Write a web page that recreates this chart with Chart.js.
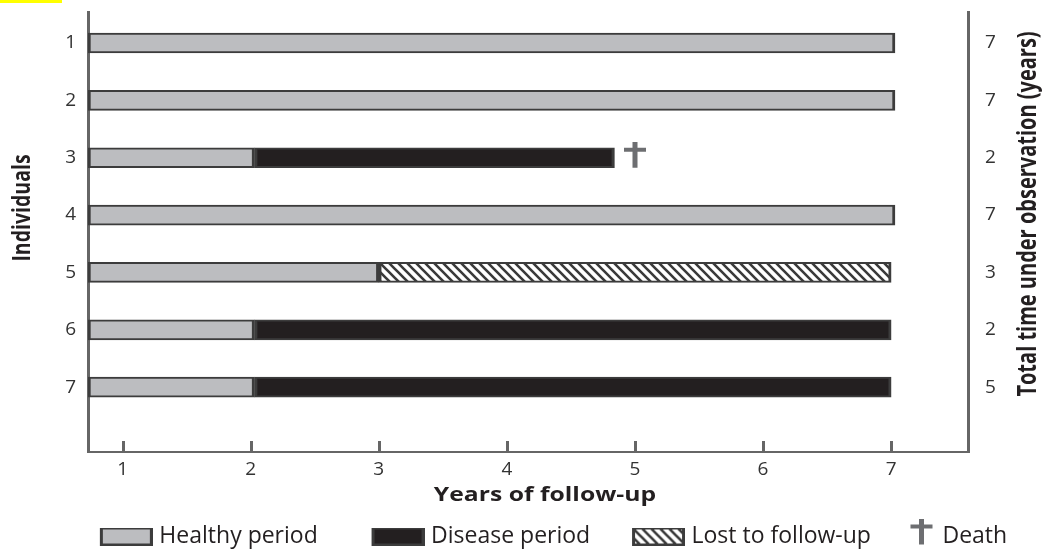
<html>
<head>
  <meta charset="UTF-8">
  <title>Follow-up of individuals</title>
  <script src="https://cdn.jsdelivr.net/npm/chart.js"></script>
  <style>
    body { margin: 0; background: #fff; }
    #chartContainer { width: 1043px; height: 550px; }
  </style>
</head>
<body>
  <div id="chartContainer">
    <canvas id="followChart"></canvas>
  </div>

  <script>
    // --- Data ---
    const INDIVIDUALS  = [1, 2, 3, 4, 5, 6, 7];
    const YEAR_TICKS   = [1, 2, 3, 4, 5, 6, 7];
    const FOLLOW_START = 0.73;   // bars start at the left edge of the time axis
    const HEALTHY_END  = [7.03, 7.03, 2.03, 7.03, 3.0, 2.03, 2.03];
    const DISEASE      = [null, null, [2.03, 4.84], null, null, [2.03, 7.0], [2.03, 7.0]];
    const LOST         = [null, null, null, null, [3.0, 7.0], null, null];
    const DEATHS       = [{ x: 5.0, y: 3 }];
    const TOTAL_TIME   = [7, 7, 2, 7, 3, 2, 5];

    // --- Styles ---
    const FONT   = "'Open Sans', 'Noto Sans', sans-serif";
    const GREY   = '#bcbdc0';
    const BLACK  = '#231f20';
    const EDGE   = '#3c3c3c';
    const AXIS   = '#666666';
    const DAGGER = '#6d6e71';
    const TEXT   = '#333333';
    const STRETCH = 1.3;   // the source figure is stretched sideways

    function hatchPattern() {
      const c = document.createElement('canvas');
      c.width = 9; c.height = 9;
      const g = c.getContext('2d');
      g.fillStyle = '#ffffff'; g.fillRect(0, 0, 9, 9);
      g.strokeStyle = '#3a3a3a'; g.lineWidth = 2.6;
      g.beginPath();
      g.moveTo(-1, -1); g.lineTo(10, 10);
      g.moveTo(-1, 8);  g.lineTo(2, 11);
      g.moveTo(8, -1);  g.lineTo(11, 2);
      g.stroke();
      return document.createElement('canvas').getContext('2d').createPattern(c, 'repeat');
    }
    const HATCH = hatchPattern();

    function daggerCanvas(w, h, cx, top) {
      const c = document.createElement('canvas');
      c.width = w; c.height = h;
      const g = c.getContext('2d');
      g.fillStyle = DAGGER;
      g.fillRect(cx - 2.5, top, 5, 26);
      g.fillRect(cx - 11, top + 6, 22, 4);
      return c;
    }

    // legend swatch, box flush right so the text sits close to it
    const SW_W = 62;
    function swatch(fill) {
      const c = document.createElement('canvas');
      c.width = SW_W; c.height = 18;
      const g = c.getContext('2d');
      g.fillStyle = EDGE; g.fillRect(SW_W - 53, 0, 53, 18);
      g.fillStyle = fill; g.fillRect(SW_W - 50, 2, 47, 14);
      return c;
    }

    const rows = (ranges) => INDIVIDUALS
      .map((id, i) => ranges[i] ? { y: id, x: ranges[i] } : null)
      .filter(Boolean);

    const barBase = {
      type: 'bar', grouped: false, barThickness: 20,
      borderColor: EDGE, borderWidth: { top: 2, bottom: 2, left: 3, right: 3 },
      borderSkipped: false, xAxisID: 'x', yAxisID: 'y'
    };

    function stretchedText(ctx, text, font, x, y, angle) {
      ctx.save();
      ctx.font = font;
      ctx.fillStyle = BLACK;
      ctx.textAlign = 'center'; ctx.textBaseline = 'middle';
      ctx.translate(x, y);
      ctx.scale(STRETCH, 1);
      ctx.rotate(angle);
      ctx.fillText(text, 0, 0);
      ctx.restore();
    }

    // --- Extra drawing: inward x ticks, axis titles ---
    const decor = {
      id: 'decor',
      beforeDraw(chart) {
        const ctx = chart.ctx;
        ctx.save();
        ctx.fillStyle = '#ffff00';
        ctx.fillRect(0, 0, 62, 3);
        ctx.restore();
      },
      afterDraw(chart) {
        const { ctx, chartArea, scales } = chart;
        ctx.save();
        ctx.strokeStyle = AXIS; ctx.lineWidth = 3;
        YEAR_TICKS.forEach(v => {
          const px = Math.round(scales.x.getPixelForValue(v)) + 0.5;
          ctx.beginPath();
          ctx.moveTo(px, chartArea.bottom);
          ctx.lineTo(px, chartArea.bottom - 11);
          ctx.stroke();
        });
        ctx.restore();
        stretchedText(ctx, 'Years of follow-up', 'bold 19px ' + FONT, 545, 496, 0);
        stretchedText(ctx, 'Individuals', 'bold 19.5px ' + FONT, 23, 208, -Math.PI / 2);
        stretchedText(ctx, 'Total time under observation (years)', 'bold 20px ' + FONT, 1029, 214, -Math.PI / 2);
      }
    };

    const yScaleBase = {
      type: 'linear', min: 0.46, max: 8.13, reverse: true, offset: false,
      afterBuildTicks: s => { s.ticks = INDIVIDUALS.map(v => ({ value: v })); },
      grid: { display: false, drawTicks: false },
      border: { display: true, color: AXIS, width: 3 }
    };

    new Chart(document.getElementById('followChart'), {
      type: 'bar',
      data: {
        datasets: [
          { ...barBase, label: 'Healthy period', backgroundColor: GREY,
            data: rows(HEALTHY_END.map(e => [FOLLOW_START, e])) },
          { ...barBase, label: 'Disease period', backgroundColor: BLACK,
            data: rows(DISEASE) },
          { ...barBase, label: 'Lost to follow-up', backgroundColor: HATCH,
            data: rows(LOST) },
          { type: 'scatter', label: 'Death', data: DEATHS,
            pointStyle: daggerCanvas(26, 32, 13, 0), pointRadius: 10,
            xAxisID: 'x', yAxisID: 'y' }
        ]
      },
      options: {
        indexAxis: 'y',
        responsive: true,
        maintainAspectRatio: false,
        animation: false,
        layout: { padding: { top: 12, bottom: -8, left: 60, right: 0 } },
        plugins: {
          tooltip: { enabled: false },
          legend: {
            position: 'bottom',
            labels: {
              usePointStyle: true, pointStyleWidth: SW_W - 10, boxHeight: 18,
              padding: 8, color: BLACK,
              font: { size: 23, family: FONT },
              generateLabels: () => [
                { text: 'Healthy period       ', pointStyle: swatch(GREY) },
                { text: 'Disease period     ',   pointStyle: swatch(BLACK) },
                { text: 'Lost to follow-up',     pointStyle: swatch(HATCH) },
                { text: 'Death',                 pointStyle: daggerCanvas(SW_W, 36, 47.5, 0) }
              ].map(o => ({ ...o, fillStyle: 'transparent', strokeStyle: 'transparent',
                            lineWidth: 0, hidden: false, fontColor: BLACK }))
            }
          }
        },
        scales: {
          x: {
            type: 'linear', position: 'bottom', min: 0.73, max: 7.6, offset: false,
            afterBuildTicks: s => { s.ticks = YEAR_TICKS.map(v => ({ value: v })); },
            afterFit: s => { s.height = 65; s.paddingLeft = 0; s.paddingRight = 0; },
            grid: { display: false, drawTicks: false },
            border: { display: true, color: AXIS, width: 2 },
            ticks: { color: TEXT, padding: 6, font: { size: 19, family: FONT } }
          },
          y: {
            ...yScaleBase, position: 'left',
            afterFit: s => { s.width = 28; s.paddingTop = 0; s.paddingBottom = 0; },
            ticks: { color: TEXT, padding: 12, font: { size: 19, family: FONT } }
          },
          y2: {
            ...yScaleBase, position: 'right', axis: 'y',
            afterFit: s => { s.width = 75; s.paddingTop = 0; s.paddingBottom = 0; },
            ticks: { color: TEXT, padding: 17, font: { size: 19, family: FONT },
                     callback: (v) => TOTAL_TIME[INDIVIDUALS.indexOf(v)] }
          }
        }
      },
      plugins: [decor]
    });
  </script>
</body>
</html>
